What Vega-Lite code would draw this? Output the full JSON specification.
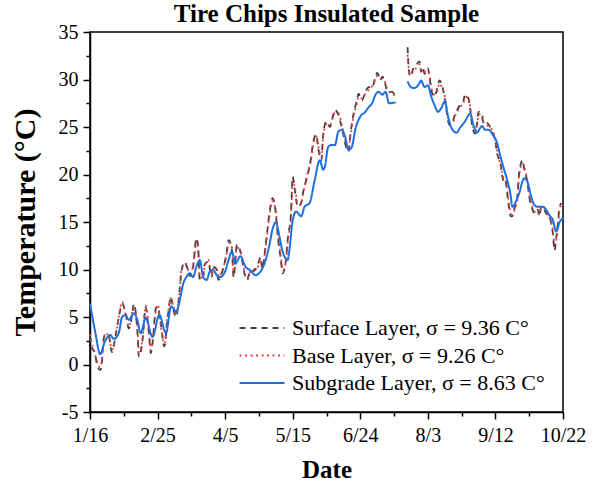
{
  "$schema": "https://vega.github.io/schema/vega-lite/v6.json",
  "width": 473,
  "height": 380,
  "autosize": {"type": "none"},
  "padding": {"left": 90, "top": 32, "right": 37, "bottom": 78},
  "background": "white",
  "title": {
    "text": "Tire Chips Insulated Sample",
    "font": "Liberation Serif",
    "fontSize": 25,
    "fontWeight": "bold",
    "color": "black",
    "anchor": "middle",
    "offset": -5
  },
  "config": {
    "view": {"stroke": "black", "strokeWidth": 1.5},
    "axis": {
      "grid": false,
      "domainColor": "black",
      "domainWidth": 1.5,
      "tickColor": "black",
      "tickWidth": 1.5,
      "labelFont": "Liberation Serif",
      "labelFontSize": 20,
      "labelColor": "black",
      "titleFont": "Liberation Serif",
      "titleFontSize": 25,
      "titleFontWeight": "bold",
      "titleColor": "black",
      "labelOverlap": false,
      "labelFlush": false,
      "labelBound": false
    },
    "legend": {
      "labelFont": "Liberation Serif",
      "labelFontSize": 22,
      "labelColor": "black"
    }
  },
  "data": {
    "values": [
      {"d": "2020-01-16", "s": "Subgrade", "p": 1, "t": 6.4},
      {"d": "2020-01-19", "s": "Subgrade", "p": 1, "t": 3.5},
      {"d": "2020-01-22", "s": "Subgrade", "p": 1, "t": 1.1},
      {"d": "2020-01-25", "s": "Subgrade", "p": 1, "t": 2.5},
      {"d": "2020-01-28", "s": "Subgrade", "p": 1, "t": 3.1},
      {"d": "2020-01-30", "s": "Subgrade", "p": 1, "t": 2.7},
      {"d": "2020-02-02", "s": "Subgrade", "p": 1, "t": 3.3},
      {"d": "2020-02-04", "s": "Subgrade", "p": 1, "t": 5.0},
      {"d": "2020-02-06", "s": "Subgrade", "p": 1, "t": 5.2},
      {"d": "2020-02-08", "s": "Subgrade", "p": 1, "t": 4.7},
      {"d": "2020-02-11", "s": "Subgrade", "p": 1, "t": 5.4},
      {"d": "2020-02-13", "s": "Subgrade", "p": 1, "t": 4.7},
      {"d": "2020-02-15", "s": "Subgrade", "p": 1, "t": 3.3},
      {"d": "2020-02-18", "s": "Subgrade", "p": 1, "t": 4.9},
      {"d": "2020-02-22", "s": "Subgrade", "p": 1, "t": 2.9},
      {"d": "2020-02-26", "s": "Subgrade", "p": 1, "t": 5.2},
      {"d": "2020-03-01", "s": "Subgrade", "p": 1, "t": 3.3},
      {"d": "2020-03-04", "s": "Subgrade", "p": 1, "t": 6.1},
      {"d": "2020-03-07", "s": "Subgrade", "p": 1, "t": 5.6},
      {"d": "2020-03-09", "s": "Subgrade", "p": 1, "t": 6.6},
      {"d": "2020-03-11", "s": "Subgrade", "p": 1, "t": 8.4},
      {"d": "2020-03-13", "s": "Subgrade", "p": 1, "t": 9.2},
      {"d": "2020-03-15", "s": "Subgrade", "p": 1, "t": 9.6},
      {"d": "2020-03-17", "s": "Subgrade", "p": 1, "t": 9.2},
      {"d": "2020-03-19", "s": "Subgrade", "p": 1, "t": 10.3},
      {"d": "2020-03-21", "s": "Subgrade", "p": 1, "t": 11.0},
      {"d": "2020-03-23", "s": "Subgrade", "p": 1, "t": 9.2},
      {"d": "2020-03-25", "s": "Subgrade", "p": 1, "t": 8.9},
      {"d": "2020-03-27", "s": "Subgrade", "p": 1, "t": 9.8},
      {"d": "2020-03-29", "s": "Subgrade", "p": 1, "t": 9.95},
      {"d": "2020-03-31", "s": "Subgrade", "p": 1, "t": 9.4},
      {"d": "2020-04-02", "s": "Subgrade", "p": 1, "t": 9.2},
      {"d": "2020-04-05", "s": "Subgrade", "p": 1, "t": 9.8},
      {"d": "2020-04-07", "s": "Subgrade", "p": 1, "t": 11.0},
      {"d": "2020-04-09", "s": "Subgrade", "p": 1, "t": 11.9},
      {"d": "2020-04-11", "s": "Subgrade", "p": 1, "t": 10.6},
      {"d": "2020-04-14", "s": "Subgrade", "p": 1, "t": 11.4},
      {"d": "2020-04-17", "s": "Subgrade", "p": 1, "t": 10.3},
      {"d": "2020-04-20", "s": "Subgrade", "p": 1, "t": 9.9},
      {"d": "2020-04-23", "s": "Subgrade", "p": 1, "t": 9.4},
      {"d": "2020-04-25", "s": "Subgrade", "p": 1, "t": 9.6},
      {"d": "2020-04-28", "s": "Subgrade", "p": 1, "t": 10.5},
      {"d": "2020-05-01", "s": "Subgrade", "p": 1, "t": 12.4},
      {"d": "2020-05-03", "s": "Subgrade", "p": 1, "t": 14.2},
      {"d": "2020-05-05", "s": "Subgrade", "p": 1, "t": 15.0},
      {"d": "2020-05-07", "s": "Subgrade", "p": 1, "t": 13.6},
      {"d": "2020-05-09", "s": "Subgrade", "p": 1, "t": 11.9},
      {"d": "2020-05-12", "s": "Subgrade", "p": 1, "t": 11.0},
      {"d": "2020-05-13", "s": "Subgrade", "p": 1, "t": 12.0},
      {"d": "2020-05-15", "s": "Subgrade", "p": 1, "t": 15.2},
      {"d": "2020-05-17", "s": "Subgrade", "p": 1, "t": 16.1},
      {"d": "2020-05-20", "s": "Subgrade", "p": 1, "t": 15.6},
      {"d": "2020-05-22", "s": "Subgrade", "p": 1, "t": 16.6},
      {"d": "2020-05-25", "s": "Subgrade", "p": 1, "t": 17.0},
      {"d": "2020-05-28", "s": "Subgrade", "p": 1, "t": 19.4},
      {"d": "2020-05-31", "s": "Subgrade", "p": 1, "t": 21.5},
      {"d": "2020-06-02", "s": "Subgrade", "p": 1, "t": 20.5},
      {"d": "2020-06-03", "s": "Subgrade", "p": 1, "t": 20.8},
      {"d": "2020-06-05", "s": "Subgrade", "p": 1, "t": 22.9},
      {"d": "2020-06-07", "s": "Subgrade", "p": 1, "t": 23.1},
      {"d": "2020-06-09", "s": "Subgrade", "p": 1, "t": 23.1},
      {"d": "2020-06-11", "s": "Subgrade", "p": 1, "t": 24.5},
      {"d": "2020-06-13", "s": "Subgrade", "p": 1, "t": 24.7},
      {"d": "2020-06-15", "s": "Subgrade", "p": 1, "t": 24.0},
      {"d": "2020-06-17", "s": "Subgrade", "p": 1, "t": 22.6},
      {"d": "2020-06-19", "s": "Subgrade", "p": 1, "t": 22.9},
      {"d": "2020-06-21", "s": "Subgrade", "p": 1, "t": 24.7},
      {"d": "2020-06-24", "s": "Subgrade", "p": 1, "t": 26.1},
      {"d": "2020-06-27", "s": "Subgrade", "p": 1, "t": 26.6},
      {"d": "2020-06-29", "s": "Subgrade", "p": 1, "t": 27.1},
      {"d": "2020-07-01", "s": "Subgrade", "p": 1, "t": 27.5},
      {"d": "2020-07-03", "s": "Subgrade", "p": 1, "t": 28.4},
      {"d": "2020-07-05", "s": "Subgrade", "p": 1, "t": 28.7},
      {"d": "2020-07-07", "s": "Subgrade", "p": 1, "t": 28.4},
      {"d": "2020-07-09", "s": "Subgrade", "p": 1, "t": 28.7},
      {"d": "2020-07-11", "s": "Subgrade", "p": 1, "t": 27.5},
      {"d": "2020-07-15", "s": "Subgrade", "p": 1, "t": 27.6},
      {"d": "2020-07-22", "s": "Subgrade", "p": 2, "t": 29.8},
      {"d": "2020-07-24", "s": "Subgrade", "p": 2, "t": 29.2},
      {"d": "2020-07-26", "s": "Subgrade", "p": 2, "t": 29.1},
      {"d": "2020-07-29", "s": "Subgrade", "p": 2, "t": 29.6},
      {"d": "2020-07-30", "s": "Subgrade", "p": 2, "t": 29.9},
      {"d": "2020-08-01", "s": "Subgrade", "p": 2, "t": 29.2},
      {"d": "2020-08-03", "s": "Subgrade", "p": 2, "t": 29.4},
      {"d": "2020-08-05", "s": "Subgrade", "p": 2, "t": 28.2},
      {"d": "2020-08-07", "s": "Subgrade", "p": 2, "t": 27.3},
      {"d": "2020-08-09", "s": "Subgrade", "p": 2, "t": 26.6},
      {"d": "2020-08-11", "s": "Subgrade", "p": 2, "t": 27.0},
      {"d": "2020-08-13", "s": "Subgrade", "p": 2, "t": 27.7},
      {"d": "2020-08-15", "s": "Subgrade", "p": 2, "t": 26.1},
      {"d": "2020-08-17", "s": "Subgrade", "p": 2, "t": 24.9},
      {"d": "2020-08-20", "s": "Subgrade", "p": 2, "t": 24.4},
      {"d": "2020-08-22", "s": "Subgrade", "p": 2, "t": 24.9},
      {"d": "2020-08-25", "s": "Subgrade", "p": 2, "t": 25.6},
      {"d": "2020-08-28", "s": "Subgrade", "p": 2, "t": 26.4},
      {"d": "2020-08-30", "s": "Subgrade", "p": 2, "t": 25.2},
      {"d": "2020-09-01", "s": "Subgrade", "p": 2, "t": 24.4},
      {"d": "2020-09-03", "s": "Subgrade", "p": 2, "t": 24.9},
      {"d": "2020-09-04", "s": "Subgrade", "p": 2, "t": 25.1},
      {"d": "2020-09-06", "s": "Subgrade", "p": 2, "t": 24.7},
      {"d": "2020-09-08", "s": "Subgrade", "p": 2, "t": 24.7},
      {"d": "2020-09-10", "s": "Subgrade", "p": 2, "t": 24.3},
      {"d": "2020-09-13", "s": "Subgrade", "p": 2, "t": 23.3},
      {"d": "2020-09-15", "s": "Subgrade", "p": 2, "t": 21.9},
      {"d": "2020-09-17", "s": "Subgrade", "p": 2, "t": 20.6},
      {"d": "2020-09-19", "s": "Subgrade", "p": 2, "t": 19.4},
      {"d": "2020-09-21", "s": "Subgrade", "p": 2, "t": 17.8},
      {"d": "2020-09-22", "s": "Subgrade", "p": 2, "t": 16.6},
      {"d": "2020-09-24", "s": "Subgrade", "p": 2, "t": 17.1},
      {"d": "2020-09-26", "s": "Subgrade", "p": 2, "t": 18.0},
      {"d": "2020-09-29", "s": "Subgrade", "p": 2, "t": 19.6},
      {"d": "2020-10-01", "s": "Subgrade", "p": 2, "t": 19.2},
      {"d": "2020-10-03", "s": "Subgrade", "p": 2, "t": 17.8},
      {"d": "2020-10-05", "s": "Subgrade", "p": 2, "t": 16.8},
      {"d": "2020-10-07", "s": "Subgrade", "p": 2, "t": 16.6},
      {"d": "2020-10-10", "s": "Subgrade", "p": 2, "t": 16.6},
      {"d": "2020-10-12", "s": "Subgrade", "p": 2, "t": 16.3},
      {"d": "2020-10-14", "s": "Subgrade", "p": 2, "t": 15.7},
      {"d": "2020-10-16", "s": "Subgrade", "p": 2, "t": 15.2},
      {"d": "2020-10-18", "s": "Subgrade", "p": 2, "t": 14.0},
      {"d": "2020-10-20", "s": "Subgrade", "p": 2, "t": 15.0},
      {"d": "2020-10-22", "s": "Subgrade", "p": 2, "t": 15.4},

      {"d": "2020-01-16", "s": "Surface", "p": 1, "t": 3.0},
      {"d": "2020-01-17", "s": "Surface", "p": 1, "t": 1.9},
      {"d": "2020-01-18", "s": "Surface", "p": 1, "t": 1.5},
      {"d": "2020-01-19", "s": "Surface", "p": 1, "t": 1.2},
      {"d": "2020-01-20", "s": "Surface", "p": 1, "t": 0.1},
      {"d": "2020-01-22", "s": "Surface", "p": 1, "t": -0.6},
      {"d": "2020-01-23", "s": "Surface", "p": 1, "t": 0.1},
      {"d": "2020-01-24", "s": "Surface", "p": 1, "t": 2.6},
      {"d": "2020-01-25", "s": "Surface", "p": 1, "t": 3.1},
      {"d": "2020-01-27", "s": "Surface", "p": 1, "t": 3.1},
      {"d": "2020-01-29", "s": "Surface", "p": 1, "t": 1.3},
      {"d": "2020-01-31", "s": "Surface", "p": 1, "t": 2.9},
      {"d": "2020-02-02", "s": "Surface", "p": 1, "t": 4.9},
      {"d": "2020-02-04", "s": "Surface", "p": 1, "t": 6.4},
      {"d": "2020-02-06", "s": "Surface", "p": 1, "t": 5.5},
      {"d": "2020-02-08", "s": "Surface", "p": 1, "t": 3.8},
      {"d": "2020-02-10", "s": "Surface", "p": 1, "t": 5.3},
      {"d": "2020-02-11", "s": "Surface", "p": 1, "t": 6.4},
      {"d": "2020-02-13", "s": "Surface", "p": 1, "t": 3.6},
      {"d": "2020-02-14", "s": "Surface", "p": 1, "t": 0.8},
      {"d": "2020-02-16", "s": "Surface", "p": 1, "t": 2.4},
      {"d": "2020-02-18", "s": "Surface", "p": 1, "t": 6.0},
      {"d": "2020-02-20", "s": "Surface", "p": 1, "t": 3.0},
      {"d": "2020-02-21", "s": "Surface", "p": 1, "t": 1.2},
      {"d": "2020-02-22", "s": "Surface", "p": 1, "t": 2.2},
      {"d": "2020-02-24", "s": "Surface", "p": 1, "t": 5.9},
      {"d": "2020-02-25", "s": "Surface", "p": 1, "t": 6.1},
      {"d": "2020-02-27", "s": "Surface", "p": 1, "t": 4.2},
      {"d": "2020-02-29", "s": "Surface", "p": 1, "t": 1.9},
      {"d": "2020-03-02", "s": "Surface", "p": 1, "t": 5.0},
      {"d": "2020-03-04", "s": "Surface", "p": 1, "t": 7.1},
      {"d": "2020-03-05", "s": "Surface", "p": 1, "t": 6.1},
      {"d": "2020-03-07", "s": "Surface", "p": 1, "t": 5.0},
      {"d": "2020-03-09", "s": "Surface", "p": 1, "t": 7.8},
      {"d": "2020-03-10", "s": "Surface", "p": 1, "t": 9.6},
      {"d": "2020-03-12", "s": "Surface", "p": 1, "t": 10.8},
      {"d": "2020-03-14", "s": "Surface", "p": 1, "t": 9.9},
      {"d": "2020-03-15", "s": "Surface", "p": 1, "t": 9.3},
      {"d": "2020-03-17", "s": "Surface", "p": 1, "t": 10.2},
      {"d": "2020-03-19", "s": "Surface", "p": 1, "t": 13.3},
      {"d": "2020-03-20", "s": "Surface", "p": 1, "t": 12.4},
      {"d": "2020-03-21", "s": "Surface", "p": 1, "t": 8.9},
      {"d": "2020-03-23", "s": "Surface", "p": 1, "t": 9.3},
      {"d": "2020-03-24", "s": "Surface", "p": 1, "t": 10.6},
      {"d": "2020-03-26", "s": "Surface", "p": 1, "t": 10.8},
      {"d": "2020-03-28", "s": "Surface", "p": 1, "t": 9.2},
      {"d": "2020-03-29", "s": "Surface", "p": 1, "t": 10.3},
      {"d": "2020-03-31", "s": "Surface", "p": 1, "t": 10.0},
      {"d": "2020-04-01", "s": "Surface", "p": 1, "t": 8.9},
      {"d": "2020-04-03", "s": "Surface", "p": 1, "t": 9.6},
      {"d": "2020-04-06", "s": "Surface", "p": 1, "t": 11.9},
      {"d": "2020-04-07", "s": "Surface", "p": 1, "t": 13.1},
      {"d": "2020-04-09", "s": "Surface", "p": 1, "t": 12.1},
      {"d": "2020-04-10", "s": "Surface", "p": 1, "t": 9.2},
      {"d": "2020-04-12", "s": "Surface", "p": 1, "t": 12.6},
      {"d": "2020-04-14", "s": "Surface", "p": 1, "t": 11.9},
      {"d": "2020-04-15", "s": "Surface", "p": 1, "t": 11.0},
      {"d": "2020-04-17", "s": "Surface", "p": 1, "t": 9.2},
      {"d": "2020-04-18", "s": "Surface", "p": 1, "t": 8.9},
      {"d": "2020-04-20", "s": "Surface", "p": 1, "t": 9.9},
      {"d": "2020-04-21", "s": "Surface", "p": 1, "t": 9.8},
      {"d": "2020-04-24", "s": "Surface", "p": 1, "t": 10.3},
      {"d": "2020-04-26", "s": "Surface", "p": 1, "t": 11.3},
      {"d": "2020-04-27", "s": "Surface", "p": 1, "t": 10.1},
      {"d": "2020-04-29", "s": "Surface", "p": 1, "t": 12.6},
      {"d": "2020-05-01", "s": "Surface", "p": 1, "t": 15.6},
      {"d": "2020-05-03", "s": "Surface", "p": 1, "t": 17.5},
      {"d": "2020-05-05", "s": "Surface", "p": 1, "t": 15.9},
      {"d": "2020-05-06", "s": "Surface", "p": 1, "t": 13.8},
      {"d": "2020-05-08", "s": "Surface", "p": 1, "t": 11.0},
      {"d": "2020-05-09", "s": "Surface", "p": 1, "t": 9.6},
      {"d": "2020-05-11", "s": "Surface", "p": 1, "t": 11.0},
      {"d": "2020-05-12", "s": "Surface", "p": 1, "t": 13.1},
      {"d": "2020-05-14", "s": "Surface", "p": 1, "t": 16.0},
      {"d": "2020-05-15", "s": "Surface", "p": 1, "t": 19.8},
      {"d": "2020-05-16", "s": "Surface", "p": 1, "t": 18.7},
      {"d": "2020-05-18", "s": "Surface", "p": 1, "t": 16.6},
      {"d": "2020-05-20", "s": "Surface", "p": 1, "t": 17.0},
      {"d": "2020-05-21", "s": "Surface", "p": 1, "t": 18.0},
      {"d": "2020-05-24", "s": "Surface", "p": 1, "t": 20.1},
      {"d": "2020-05-26", "s": "Surface", "p": 1, "t": 21.9},
      {"d": "2020-05-27", "s": "Surface", "p": 1, "t": 23.3},
      {"d": "2020-05-29", "s": "Surface", "p": 1, "t": 24.2},
      {"d": "2020-05-30", "s": "Surface", "p": 1, "t": 22.9},
      {"d": "2020-06-01", "s": "Surface", "p": 1, "t": 21.5},
      {"d": "2020-06-02", "s": "Surface", "p": 1, "t": 24.2},
      {"d": "2020-06-04", "s": "Surface", "p": 1, "t": 25.6},
      {"d": "2020-06-06", "s": "Surface", "p": 1, "t": 25.0},
      {"d": "2020-06-08", "s": "Surface", "p": 1, "t": 26.3},
      {"d": "2020-06-09", "s": "Surface", "p": 1, "t": 26.8},
      {"d": "2020-06-11", "s": "Surface", "p": 1, "t": 26.3},
      {"d": "2020-06-13", "s": "Surface", "p": 1, "t": 25.0},
      {"d": "2020-06-15", "s": "Surface", "p": 1, "t": 23.3},
      {"d": "2020-06-17", "s": "Surface", "p": 1, "t": 22.4},
      {"d": "2020-06-18", "s": "Surface", "p": 1, "t": 24.0},
      {"d": "2020-06-20", "s": "Surface", "p": 1, "t": 26.4},
      {"d": "2020-06-22", "s": "Surface", "p": 1, "t": 27.8},
      {"d": "2020-06-23", "s": "Surface", "p": 1, "t": 28.5},
      {"d": "2020-06-25", "s": "Surface", "p": 1, "t": 27.8},
      {"d": "2020-06-27", "s": "Surface", "p": 1, "t": 28.7},
      {"d": "2020-06-29", "s": "Surface", "p": 1, "t": 29.2},
      {"d": "2020-07-01", "s": "Surface", "p": 1, "t": 29.1},
      {"d": "2020-07-03", "s": "Surface", "p": 1, "t": 30.3},
      {"d": "2020-07-04", "s": "Surface", "p": 1, "t": 30.7},
      {"d": "2020-07-06", "s": "Surface", "p": 1, "t": 29.9},
      {"d": "2020-07-07", "s": "Surface", "p": 1, "t": 30.3},
      {"d": "2020-07-09", "s": "Surface", "p": 1, "t": 29.4},
      {"d": "2020-07-10", "s": "Surface", "p": 1, "t": 28.7},
      {"d": "2020-07-13", "s": "Surface", "p": 1, "t": 28.7},
      {"d": "2020-07-15", "s": "Surface", "p": 1, "t": 28.0},
      {"d": "2020-07-22", "s": "Surface", "p": 2, "t": 33.4},
      {"d": "2020-07-23", "s": "Surface", "p": 2, "t": 30.6},
      {"d": "2020-07-24", "s": "Surface", "p": 2, "t": 30.3},
      {"d": "2020-07-25", "s": "Surface", "p": 2, "t": 31.0},
      {"d": "2020-07-27", "s": "Surface", "p": 2, "t": 31.5},
      {"d": "2020-07-29", "s": "Surface", "p": 2, "t": 31.9},
      {"d": "2020-07-30", "s": "Surface", "p": 2, "t": 30.8},
      {"d": "2020-07-31", "s": "Surface", "p": 2, "t": 31.3},
      {"d": "2020-08-01", "s": "Surface", "p": 2, "t": 30.6},
      {"d": "2020-08-03", "s": "Surface", "p": 2, "t": 31.2},
      {"d": "2020-08-04", "s": "Surface", "p": 2, "t": 30.3},
      {"d": "2020-08-05", "s": "Surface", "p": 2, "t": 28.9},
      {"d": "2020-08-07", "s": "Surface", "p": 2, "t": 28.2},
      {"d": "2020-08-08", "s": "Surface", "p": 2, "t": 28.7},
      {"d": "2020-08-10", "s": "Surface", "p": 2, "t": 29.9},
      {"d": "2020-08-11", "s": "Surface", "p": 2, "t": 29.6},
      {"d": "2020-08-13", "s": "Surface", "p": 2, "t": 28.0},
      {"d": "2020-08-14", "s": "Surface", "p": 2, "t": 26.8},
      {"d": "2020-08-15", "s": "Surface", "p": 2, "t": 25.6},
      {"d": "2020-08-16", "s": "Surface", "p": 2, "t": 25.2},
      {"d": "2020-08-18", "s": "Surface", "p": 2, "t": 25.7},
      {"d": "2020-08-19", "s": "Surface", "p": 2, "t": 26.3},
      {"d": "2020-08-21", "s": "Surface", "p": 2, "t": 27.0},
      {"d": "2020-08-22", "s": "Surface", "p": 2, "t": 27.3},
      {"d": "2020-08-24", "s": "Surface", "p": 2, "t": 27.7},
      {"d": "2020-08-25", "s": "Surface", "p": 2, "t": 28.4},
      {"d": "2020-08-27", "s": "Surface", "p": 2, "t": 28.0},
      {"d": "2020-08-28", "s": "Surface", "p": 2, "t": 27.0},
      {"d": "2020-08-29", "s": "Surface", "p": 2, "t": 25.4},
      {"d": "2020-08-31", "s": "Surface", "p": 2, "t": 24.3},
      {"d": "2020-09-01", "s": "Surface", "p": 2, "t": 25.2},
      {"d": "2020-09-02", "s": "Surface", "p": 2, "t": 26.6},
      {"d": "2020-09-04", "s": "Surface", "p": 2, "t": 26.2},
      {"d": "2020-09-05", "s": "Surface", "p": 2, "t": 25.3},
      {"d": "2020-09-07", "s": "Surface", "p": 2, "t": 25.4},
      {"d": "2020-09-10", "s": "Surface", "p": 2, "t": 24.5},
      {"d": "2020-09-12", "s": "Surface", "p": 2, "t": 23.4},
      {"d": "2020-09-13", "s": "Surface", "p": 2, "t": 22.2},
      {"d": "2020-09-15", "s": "Surface", "p": 2, "t": 21.2},
      {"d": "2020-09-16", "s": "Surface", "p": 2, "t": 19.9},
      {"d": "2020-09-17", "s": "Surface", "p": 2, "t": 19.2},
      {"d": "2020-09-18", "s": "Surface", "p": 2, "t": 19.4},
      {"d": "2020-09-19", "s": "Surface", "p": 2, "t": 18.0},
      {"d": "2020-09-20", "s": "Surface", "p": 2, "t": 16.6},
      {"d": "2020-09-21", "s": "Surface", "p": 2, "t": 15.6},
      {"d": "2020-09-22", "s": "Surface", "p": 2, "t": 15.6},
      {"d": "2020-09-23", "s": "Surface", "p": 2, "t": 16.3},
      {"d": "2020-09-25", "s": "Surface", "p": 2, "t": 17.7},
      {"d": "2020-09-26", "s": "Surface", "p": 2, "t": 20.1},
      {"d": "2020-09-28", "s": "Surface", "p": 2, "t": 21.5},
      {"d": "2020-09-29", "s": "Surface", "p": 2, "t": 20.6},
      {"d": "2020-10-01", "s": "Surface", "p": 2, "t": 19.1},
      {"d": "2020-10-02", "s": "Surface", "p": 2, "t": 17.7},
      {"d": "2020-10-04", "s": "Surface", "p": 2, "t": 16.3},
      {"d": "2020-10-05", "s": "Surface", "p": 2, "t": 15.9},
      {"d": "2020-10-07", "s": "Surface", "p": 2, "t": 16.3},
      {"d": "2020-10-08", "s": "Surface", "p": 2, "t": 15.6},
      {"d": "2020-10-09", "s": "Surface", "p": 2, "t": 16.6},
      {"d": "2020-10-11", "s": "Surface", "p": 2, "t": 16.3},
      {"d": "2020-10-12", "s": "Surface", "p": 2, "t": 15.9},
      {"d": "2020-10-14", "s": "Surface", "p": 2, "t": 15.6},
      {"d": "2020-10-15", "s": "Surface", "p": 2, "t": 14.9},
      {"d": "2020-10-16", "s": "Surface", "p": 2, "t": 13.8},
      {"d": "2020-10-17", "s": "Surface", "p": 2, "t": 12.0},
      {"d": "2020-10-18", "s": "Surface", "p": 2, "t": 13.3},
      {"d": "2020-10-19", "s": "Surface", "p": 2, "t": 14.9},
      {"d": "2020-10-20", "s": "Surface", "p": 2, "t": 16.6},
      {"d": "2020-10-21", "s": "Surface", "p": 2, "t": 17.0},

      {"d": "2020-01-16", "s": "Base", "p": 1, "t": 3.2},
      {"d": "2020-01-17", "s": "Base", "p": 1, "t": 2.2},
      {"d": "2020-01-18", "s": "Base", "p": 1, "t": 1.8},
      {"d": "2020-01-19", "s": "Base", "p": 1, "t": 1.0},
      {"d": "2020-01-20", "s": "Base", "p": 1, "t": 0.4},
      {"d": "2020-01-22", "s": "Base", "p": 1, "t": -0.3},
      {"d": "2020-01-23", "s": "Base", "p": 1, "t": 0.4},
      {"d": "2020-01-24", "s": "Base", "p": 1, "t": 2.4},
      {"d": "2020-01-25", "s": "Base", "p": 1, "t": 3.3},
      {"d": "2020-01-27", "s": "Base", "p": 1, "t": 3.0},
      {"d": "2020-01-29", "s": "Base", "p": 1, "t": 1.6},
      {"d": "2020-01-31", "s": "Base", "p": 1, "t": 2.7},
      {"d": "2020-02-02", "s": "Base", "p": 1, "t": 5.0},
      {"d": "2020-02-04", "s": "Base", "p": 1, "t": 6.6},
      {"d": "2020-02-06", "s": "Base", "p": 1, "t": 5.3},
      {"d": "2020-02-08", "s": "Base", "p": 1, "t": 4.0},
      {"d": "2020-02-10", "s": "Base", "p": 1, "t": 5.5},
      {"d": "2020-02-11", "s": "Base", "p": 1, "t": 6.2},
      {"d": "2020-02-13", "s": "Base", "p": 1, "t": 3.9},
      {"d": "2020-02-14", "s": "Base", "p": 1, "t": 1.2},
      {"d": "2020-02-16", "s": "Base", "p": 1, "t": 2.6},
      {"d": "2020-02-18", "s": "Base", "p": 1, "t": 6.2},
      {"d": "2020-02-20", "s": "Base", "p": 1, "t": 3.3},
      {"d": "2020-02-21", "s": "Base", "p": 1, "t": 1.5},
      {"d": "2020-02-22", "s": "Base", "p": 1, "t": 2.5},
      {"d": "2020-02-24", "s": "Base", "p": 1, "t": 5.7},
      {"d": "2020-02-25", "s": "Base", "p": 1, "t": 6.3},
      {"d": "2020-02-27", "s": "Base", "p": 1, "t": 4.0},
      {"d": "2020-02-29", "s": "Base", "p": 1, "t": 2.2},
      {"d": "2020-03-02", "s": "Base", "p": 1, "t": 5.2},
      {"d": "2020-03-04", "s": "Base", "p": 1, "t": 7.0},
      {"d": "2020-03-05", "s": "Base", "p": 1, "t": 6.3},
      {"d": "2020-03-07", "s": "Base", "p": 1, "t": 5.3},
      {"d": "2020-03-09", "s": "Base", "p": 1, "t": 7.6},
      {"d": "2020-03-10", "s": "Base", "p": 1, "t": 9.8},
      {"d": "2020-03-12", "s": "Base", "p": 1, "t": 10.6},
      {"d": "2020-03-14", "s": "Base", "p": 1, "t": 10.0},
      {"d": "2020-03-15", "s": "Base", "p": 1, "t": 9.5},
      {"d": "2020-03-17", "s": "Base", "p": 1, "t": 10.4},
      {"d": "2020-03-19", "s": "Base", "p": 1, "t": 13.0},
      {"d": "2020-03-20", "s": "Base", "p": 1, "t": 12.1},
      {"d": "2020-03-21", "s": "Base", "p": 1, "t": 9.2},
      {"d": "2020-03-23", "s": "Base", "p": 1, "t": 9.1},
      {"d": "2020-03-24", "s": "Base", "p": 1, "t": 10.4},
      {"d": "2020-03-26", "s": "Base", "p": 1, "t": 11.0},
      {"d": "2020-03-28", "s": "Base", "p": 1, "t": 9.4},
      {"d": "2020-03-29", "s": "Base", "p": 1, "t": 10.1},
      {"d": "2020-03-31", "s": "Base", "p": 1, "t": 10.2},
      {"d": "2020-04-01", "s": "Base", "p": 1, "t": 9.2},
      {"d": "2020-04-03", "s": "Base", "p": 1, "t": 9.8},
      {"d": "2020-04-06", "s": "Base", "p": 1, "t": 11.7},
      {"d": "2020-04-07", "s": "Base", "p": 1, "t": 12.8},
      {"d": "2020-04-09", "s": "Base", "p": 1, "t": 12.3},
      {"d": "2020-04-10", "s": "Base", "p": 1, "t": 9.5},
      {"d": "2020-04-12", "s": "Base", "p": 1, "t": 12.3},
      {"d": "2020-04-14", "s": "Base", "p": 1, "t": 12.0},
      {"d": "2020-04-15", "s": "Base", "p": 1, "t": 11.2},
      {"d": "2020-04-17", "s": "Base", "p": 1, "t": 9.4},
      {"d": "2020-04-18", "s": "Base", "p": 1, "t": 9.1},
      {"d": "2020-04-20", "s": "Base", "p": 1, "t": 9.8},
      {"d": "2020-04-21", "s": "Base", "p": 1, "t": 10.0},
      {"d": "2020-04-24", "s": "Base", "p": 1, "t": 10.1},
      {"d": "2020-04-26", "s": "Base", "p": 1, "t": 11.1},
      {"d": "2020-04-27", "s": "Base", "p": 1, "t": 10.3},
      {"d": "2020-04-29", "s": "Base", "p": 1, "t": 12.4},
      {"d": "2020-05-01", "s": "Base", "p": 1, "t": 15.3},
      {"d": "2020-05-03", "s": "Base", "p": 1, "t": 17.2},
      {"d": "2020-05-05", "s": "Base", "p": 1, "t": 16.1},
      {"d": "2020-05-06", "s": "Base", "p": 1, "t": 14.0},
      {"d": "2020-05-08", "s": "Base", "p": 1, "t": 11.3},
      {"d": "2020-05-09", "s": "Base", "p": 1, "t": 9.9},
      {"d": "2020-05-11", "s": "Base", "p": 1, "t": 10.8},
      {"d": "2020-05-12", "s": "Base", "p": 1, "t": 12.8},
      {"d": "2020-05-14", "s": "Base", "p": 1, "t": 15.7},
      {"d": "2020-05-15", "s": "Base", "p": 1, "t": 19.3},
      {"d": "2020-05-16", "s": "Base", "p": 1, "t": 18.9},
      {"d": "2020-05-18", "s": "Base", "p": 1, "t": 16.9},
      {"d": "2020-05-20", "s": "Base", "p": 1, "t": 16.8},
      {"d": "2020-05-21", "s": "Base", "p": 1, "t": 17.8},
      {"d": "2020-05-24", "s": "Base", "p": 1, "t": 20.3},
      {"d": "2020-05-26", "s": "Base", "p": 1, "t": 21.7},
      {"d": "2020-05-27", "s": "Base", "p": 1, "t": 23.0},
      {"d": "2020-05-29", "s": "Base", "p": 1, "t": 24.0},
      {"d": "2020-05-30", "s": "Base", "p": 1, "t": 23.1},
      {"d": "2020-06-01", "s": "Base", "p": 1, "t": 21.8},
      {"d": "2020-06-02", "s": "Base", "p": 1, "t": 24.0},
      {"d": "2020-06-04", "s": "Base", "p": 1, "t": 25.3},
      {"d": "2020-06-06", "s": "Base", "p": 1, "t": 25.2},
      {"d": "2020-06-08", "s": "Base", "p": 1, "t": 26.1},
      {"d": "2020-06-09", "s": "Base", "p": 1, "t": 26.5},
      {"d": "2020-06-11", "s": "Base", "p": 1, "t": 26.5},
      {"d": "2020-06-13", "s": "Base", "p": 1, "t": 25.3},
      {"d": "2020-06-15", "s": "Base", "p": 1, "t": 23.6},
      {"d": "2020-06-17", "s": "Base", "p": 1, "t": 22.7},
      {"d": "2020-06-18", "s": "Base", "p": 1, "t": 23.8},
      {"d": "2020-06-20", "s": "Base", "p": 1, "t": 26.1},
      {"d": "2020-06-22", "s": "Base", "p": 1, "t": 27.5},
      {"d": "2020-06-23", "s": "Base", "p": 1, "t": 28.2},
      {"d": "2020-06-25", "s": "Base", "p": 1, "t": 28.0},
      {"d": "2020-06-27", "s": "Base", "p": 1, "t": 28.5},
      {"d": "2020-06-29", "s": "Base", "p": 1, "t": 28.9},
      {"d": "2020-07-01", "s": "Base", "p": 1, "t": 29.3},
      {"d": "2020-07-03", "s": "Base", "p": 1, "t": 30.0},
      {"d": "2020-07-04", "s": "Base", "p": 1, "t": 30.4},
      {"d": "2020-07-06", "s": "Base", "p": 1, "t": 30.1},
      {"d": "2020-07-07", "s": "Base", "p": 1, "t": 30.0},
      {"d": "2020-07-09", "s": "Base", "p": 1, "t": 29.6},
      {"d": "2020-07-10", "s": "Base", "p": 1, "t": 28.9},
      {"d": "2020-07-13", "s": "Base", "p": 1, "t": 28.5},
      {"d": "2020-07-15", "s": "Base", "p": 1, "t": 28.2},
      {"d": "2020-07-22", "s": "Base", "p": 2, "t": 32.6},
      {"d": "2020-07-23", "s": "Base", "p": 2, "t": 30.8},
      {"d": "2020-07-24", "s": "Base", "p": 2, "t": 30.5},
      {"d": "2020-07-25", "s": "Base", "p": 2, "t": 30.8},
      {"d": "2020-07-27", "s": "Base", "p": 2, "t": 31.2},
      {"d": "2020-07-29", "s": "Base", "p": 2, "t": 31.6},
      {"d": "2020-07-30", "s": "Base", "p": 2, "t": 31.0},
      {"d": "2020-07-31", "s": "Base", "p": 2, "t": 31.0},
      {"d": "2020-08-01", "s": "Base", "p": 2, "t": 30.8},
      {"d": "2020-08-03", "s": "Base", "p": 2, "t": 30.9},
      {"d": "2020-08-04", "s": "Base", "p": 2, "t": 30.5},
      {"d": "2020-08-05", "s": "Base", "p": 2, "t": 29.2},
      {"d": "2020-08-07", "s": "Base", "p": 2, "t": 28.4},
      {"d": "2020-08-08", "s": "Base", "p": 2, "t": 28.5},
      {"d": "2020-08-10", "s": "Base", "p": 2, "t": 29.6},
      {"d": "2020-08-11", "s": "Base", "p": 2, "t": 29.3},
      {"d": "2020-08-13", "s": "Base", "p": 2, "t": 28.2},
      {"d": "2020-08-14", "s": "Base", "p": 2, "t": 27.0},
      {"d": "2020-08-15", "s": "Base", "p": 2, "t": 25.9},
      {"d": "2020-08-16", "s": "Base", "p": 2, "t": 25.4},
      {"d": "2020-08-18", "s": "Base", "p": 2, "t": 25.5},
      {"d": "2020-08-19", "s": "Base", "p": 2, "t": 26.1},
      {"d": "2020-08-21", "s": "Base", "p": 2, "t": 26.8},
      {"d": "2020-08-22", "s": "Base", "p": 2, "t": 27.1},
      {"d": "2020-08-24", "s": "Base", "p": 2, "t": 27.5},
      {"d": "2020-08-25", "s": "Base", "p": 2, "t": 28.1},
      {"d": "2020-08-27", "s": "Base", "p": 2, "t": 28.2},
      {"d": "2020-08-28", "s": "Base", "p": 2, "t": 27.2},
      {"d": "2020-08-29", "s": "Base", "p": 2, "t": 25.7},
      {"d": "2020-08-31", "s": "Base", "p": 2, "t": 24.6},
      {"d": "2020-09-01", "s": "Base", "p": 2, "t": 25.0},
      {"d": "2020-09-02", "s": "Base", "p": 2, "t": 26.3},
      {"d": "2020-09-04", "s": "Base", "p": 2, "t": 26.4},
      {"d": "2020-09-05", "s": "Base", "p": 2, "t": 25.5},
      {"d": "2020-09-07", "s": "Base", "p": 2, "t": 25.2},
      {"d": "2020-09-10", "s": "Base", "p": 2, "t": 24.7},
      {"d": "2020-09-12", "s": "Base", "p": 2, "t": 23.6},
      {"d": "2020-09-13", "s": "Base", "p": 2, "t": 22.5},
      {"d": "2020-09-15", "s": "Base", "p": 2, "t": 21.0},
      {"d": "2020-09-16", "s": "Base", "p": 2, "t": 20.2},
      {"d": "2020-09-17", "s": "Base", "p": 2, "t": 19.4},
      {"d": "2020-09-18", "s": "Base", "p": 2, "t": 19.2},
      {"d": "2020-09-19", "s": "Base", "p": 2, "t": 18.3},
      {"d": "2020-09-20", "s": "Base", "p": 2, "t": 16.9},
      {"d": "2020-09-21", "s": "Base", "p": 2, "t": 15.9},
      {"d": "2020-09-22", "s": "Base", "p": 2, "t": 15.8},
      {"d": "2020-09-23", "s": "Base", "p": 2, "t": 16.1},
      {"d": "2020-09-25", "s": "Base", "p": 2, "t": 17.5},
      {"d": "2020-09-26", "s": "Base", "p": 2, "t": 19.8},
      {"d": "2020-09-28", "s": "Base", "p": 2, "t": 21.2},
      {"d": "2020-09-29", "s": "Base", "p": 2, "t": 20.8},
      {"d": "2020-10-01", "s": "Base", "p": 2, "t": 19.3},
      {"d": "2020-10-02", "s": "Base", "p": 2, "t": 17.9},
      {"d": "2020-10-04", "s": "Base", "p": 2, "t": 16.5},
      {"d": "2020-10-05", "s": "Base", "p": 2, "t": 16.1},
      {"d": "2020-10-07", "s": "Base", "p": 2, "t": 16.1},
      {"d": "2020-10-08", "s": "Base", "p": 2, "t": 15.8},
      {"d": "2020-10-09", "s": "Base", "p": 2, "t": 16.4},
      {"d": "2020-10-11", "s": "Base", "p": 2, "t": 16.5},
      {"d": "2020-10-12", "s": "Base", "p": 2, "t": 16.1},
      {"d": "2020-10-14", "s": "Base", "p": 2, "t": 15.4},
      {"d": "2020-10-15", "s": "Base", "p": 2, "t": 15.1},
      {"d": "2020-10-16", "s": "Base", "p": 2, "t": 14.1},
      {"d": "2020-10-17", "s": "Base", "p": 2, "t": 12.6},
      {"d": "2020-10-18", "s": "Base", "p": 2, "t": 13.1},
      {"d": "2020-10-19", "s": "Base", "p": 2, "t": 14.6},
      {"d": "2020-10-20", "s": "Base", "p": 2, "t": 16.3},
      {"d": "2020-10-21", "s": "Base", "p": 2, "t": 16.8}
    ]
  },
  "encoding": {
    "x": {
      "field": "d",
      "type": "temporal",
      "title": "Date",
      "scale": {
        "type": "utc",
        "domain": [
          {"year": 2020, "month": 1, "date": 16, "utc": true},
          {"year": 2020, "month": 10, "date": 22, "utc": true}
        ]
      },
      "axis": {
        "values": [
          {"year": 2020, "month": 1, "date": 16, "utc": true},
          {"year": 2020, "month": 2, "date": 5, "utc": true},
          {"year": 2020, "month": 2, "date": 25, "utc": true},
          {"year": 2020, "month": 3, "date": 16, "utc": true},
          {"year": 2020, "month": 4, "date": 5, "utc": true},
          {"year": 2020, "month": 4, "date": 25, "utc": true},
          {"year": 2020, "month": 5, "date": 15, "utc": true},
          {"year": 2020, "month": 6, "date": 4, "utc": true},
          {"year": 2020, "month": 6, "date": 24, "utc": true},
          {"year": 2020, "month": 7, "date": 14, "utc": true},
          {"year": 2020, "month": 8, "date": 3, "utc": true},
          {"year": 2020, "month": 8, "date": 23, "utc": true},
          {"year": 2020, "month": 9, "date": 12, "utc": true},
          {"year": 2020, "month": 10, "date": 2, "utc": true},
          {"year": 2020, "month": 10, "date": 22, "utc": true}
        ],
        "format": "%-m/%-d",
        "labelExpr": "round((datum.value - utc(2020, 0, 16)) / 864e5) % 40 == 0 ? datum.label : ''",
        "tickSize": {
          "condition": {"test": "round((datum.value - utc(2020, 0, 16)) / 864e5) % 40 == 0", "value": 7},
          "value": 4
        },
        "labelPadding": 6,
        "titlePadding": 12
      }
    },
    "y": {
      "field": "t",
      "type": "quantitative",
      "title": "Temperature (°C)",
      "scale": {"domain": [-5, 35], "nice": false, "zero": false},
      "axis": {
        "values": [-5, -2.5, 0, 2.5, 5, 7.5, 10, 12.5, 15, 17.5, 20, 22.5, 25, 27.5, 30, 32.5, 35],
        "labelExpr": "datum.value % 5 == 0 ? '' + datum.value : ''",
        "tickSize": {
          "condition": {"test": "datum.value % 5 == 0", "value": 7},
          "value": 4
        },
        "labelPadding": 5,
        "titleFontSize": 30,
        "titlePadding": 18
      }
    },
    "color": {
      "field": "s",
      "type": "nominal",
      "scale": {
        "domain": ["Surface", "Base", "Subgrade"],
        "range": ["#3f3f3f", "#ee3a3a", "#1f6fe0"]
      },
      "legend": {
        "title": null,
        "orient": "none",
        "legendX": 161,
        "legendY": 285,
        "symbolType": "M-4,0H4",
        "symbolSize": 126,
        "symbolStrokeWidth": 1.8,
        "labelLimit": 400,
        "labelOffset": 19,
        "rowPadding": 5.5,
        "labelExpr": "datum.label == 'Surface' ? 'Surface Layer, σ = 9.36 C°' : datum.label == 'Base' ? 'Base Layer, σ = 9.26 C°' : 'Subgrade Layer, σ = 8.63 C°'"
      }
    },
    "strokeDash": {
      "field": "s",
      "type": "nominal",
      "scale": {
        "domain": ["Surface", "Base", "Subgrade"],
        "range": [[6, 5], [2, 3.5], [1, 0]]
      }
    },
    "detail": {"field": "p"}
  },
  "layer": [
    {
      "transform": [{"filter": "datum.s == 'Surface'"}],
      "mark": {"type": "line", "interpolate": "monotone", "strokeWidth": 1.8}
    },
    {
      "transform": [{"filter": "datum.s == 'Base'"}],
      "mark": {"type": "line", "interpolate": "monotone", "strokeWidth": 1.8}
    },
    {
      "transform": [{"filter": "datum.s == 'Subgrade'"}],
      "mark": {"type": "line", "interpolate": "monotone", "strokeWidth": 2}
    }
  ]
}
